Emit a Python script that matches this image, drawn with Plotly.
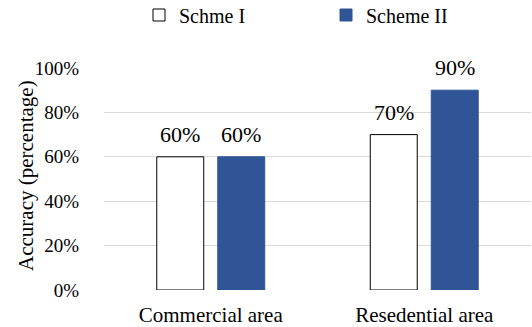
import plotly.graph_objects as go

# Chart data
categories = ["Commercial area", "Resedential area"]
scheme_1 = [0.60, 0.70]
scheme_2 = [0.60, 0.90]
series_names = ["Schme I", "Scheme II"]
y_ticks = [0, 0.2, 0.4, 0.6, 0.8, 1.0]
y_title = "Accuracy (percentage)"

FONT = "Liberation Serif"
BLUE = "#2f5597"

fig = go.Figure()
fig.add_trace(go.Bar(
    name=series_names[0], x=categories, y=scheme_1,
    marker=dict(color="white", line=dict(color="black", width=1)),
))
fig.add_trace(go.Bar(
    name=series_names[1], x=categories, y=scheme_2,
    marker=dict(color=BLUE, line=dict(color=BLUE, width=1)),
))

# Value labels above each bar (pixel shift to sit over the grouped bar)
for vals, shift in ((scheme_1, -30.5), (scheme_2, 30.5)):
    for cat, v in zip(categories, vals):
        fig.add_annotation(
            x=cat, y=v, xref="x", yref="y", text=f"{v:.0%}",
            showarrow=False, yanchor="bottom", xshift=shift, yshift=8,
            font=dict(family=FONT, size=22, color="black"),
        )

# Rotated y-axis title
fig.add_annotation(
    x=-0.1827, y=0.518, xref="paper", yref="paper", text=y_title,
    textangle=-90, showarrow=False, xanchor="center", yanchor="middle",
    font=dict(family=FONT, size=21, color="black"),
)

fig.update_layout(
    width=532, height=327,
    margin=dict(l=104, r=1, t=68, b=37),
    paper_bgcolor="white", plot_bgcolor="white",
    barmode="group", bargap=0.4286, bargroupgap=0.23,
    font=dict(family=FONT, color="black"),
    legend=dict(
        orientation="h", xref="container", yref="container",
        x=139 / 532, y=1 - 15 / 327, xanchor="left", yanchor="middle",
        font=dict(family=FONT, size=20, color="black"),
        entrywidth=142, itemwidth=30, bgcolor="rgba(0,0,0,0)",
    ),
    xaxis=dict(
        range=[-0.5, 1.5], showgrid=False, showline=False, zeroline=False,
        tickfont=dict(family=FONT, size=21, color="black"),
        ticklabelstandoff=10,
    ),
    yaxis=dict(
        range=[0, 1], tickvals=y_ticks, tickformat=".0%",
        showgrid=True, gridcolor="#d9d9d9", gridwidth=1,
        zeroline=False, showline=False,
        tickfont=dict(family=FONT, size=19, color="black"),
        ticklabelstandoff=24,
    ),
)

fig.write_html("out.html")
